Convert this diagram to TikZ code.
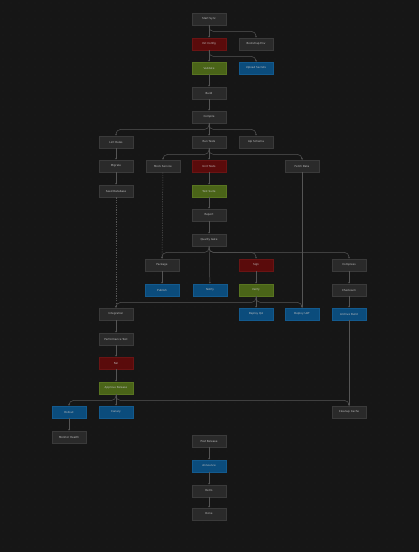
\documentclass[tikz,border=0pt]{standalone}
\usepackage{fontspec}
\setmainfont{DejaVu Sans}
\usetikzlibrary{arrows.meta}
\definecolor{bgc}{HTML}{161616}
\definecolor{dotc}{HTML}{2C2C2C}
\definecolor{grayf}{HTML}{2A2A2A}
\definecolor{grayl}{HTML}{3A3A3A}
\definecolor{redf}{HTML}{5A0B0B}
\definecolor{redl}{HTML}{6A1414}
\definecolor{greenf}{HTML}{4A6418}
\definecolor{greenl}{HTML}{587420}
\definecolor{bluef}{HTML}{0B4C7C}
\definecolor{bluel}{HTML}{135A8E}
\definecolor{edgec}{HTML}{555555}
\definecolor{txt}{HTML}{C0C0C0}
\begin{document}
\begin{tikzpicture}[x=1bp,y=-1bp,
  box/.style={draw=grayl,fill=grayf,minimum width=34bp,minimum height=12.5bp,inner sep=0pt,text=txt,line width=0.4pt,font=\fontsize{2.7}{3.1}\selectfont},
  redb/.style={box,fill=redf,draw=redl},
  greenb/.style={box,fill=greenf,draw=greenl},
  blueb/.style={box,fill=bluef,draw=bluel},
  e/.style={draw=edgec,line width=0.5pt,rounded corners=4.5pt,-{Stealth[length=1.6pt,width=1.6pt]}},
  ed/.style={e,dashed,dash pattern=on 1.2pt off 1.2pt}]
\useasboundingbox (0,0) rectangle (418,552);
\fill[bgc] (-3,-3) rectangle (421,555);
\begin{scope}
\clip (0,0) rectangle (418,552);
\foreach \i in {0,...,51} \foreach \j in {0,...,68} \fill[dotc] (\i*8+3,\j*8+3) circle (0.35);
\end{scope}
% nodes
\node[box]    (a)   at (209,19)  {Start Sync};
\node[redb]   (b)   at (209,44)  {Init Config};
\node[box]    (c)   at (256,44)  {Bootstrap Env};
\node[greenb] (d)   at (209,68)  {Validate};
\node[blueb]  (f)   at (256,68)  {Upload Secrets};
\node[box]    (g)   at (209,93)  {Build};
\node[box]    (h)   at (209,117) {Compile};
\node[box]    (i1)  at (116,142) {Lint Rules};
\node[box]    (i2)  at (209,142) {Run Tests};
\node[box]    (i3)  at (256,142) {Api Schema};
\node[box]    (j1)  at (116,166) {Migrate};
\node[box]    (j2)  at (163,166) {Mock Service};
\node[redb]   (j3)  at (209,166) {Unit Tests};
\node[box]    (j4)  at (302,166) {Fetch Data};
\node[box]    (k1)  at (116,191) {Seed Database};
\node[greenb] (k2)  at (209,191) {Test Suite};
\node[box]    (l)   at (209,215) {Report};
\node[box]    (m)   at (209,240) {Quality Gate};
\node[box]    (n1)  at (162,265) {Package};
\node[redb]   (n2)  at (256,265) {Sign};
\node[box]    (n3)  at (349,265) {Compress};
\node[blueb]  (o1)  at (162,290) {Publish};
\node[blueb]  (o2)  at (210,290) {Notify};
\node[greenb] (o3)  at (256,290) {Verify};
\node[box]    (o4)  at (349,290) {Checksum};
\node[box]    (p1)  at (116,314) {Integration};
\node[blueb]  (p2)  at (256,314) {Deploy QA};
\node[blueb]  (p3)  at (302,314) {Deploy UAT};
\node[blueb]  (p4)  at (349,314) {Archive Build};
\node[box]    (q)   at (116,339) {Performance Test};
\node[redb]   (r)   at (116,363) {Fail};
\node[greenb] (s)   at (116,388) {Approve Release};
\node[blueb]  (t1)  at (69,412)  {Rollout};
\node[blueb]  (t2)  at (116,412) {Canary};
\node[box]    (t3)  at (349,412) {Cleanup Cache};
\node[box]    (u1)  at (69,437)  {Monitor Health};
\node[box]    (u2)  at (209,441) {Post Release};
\node[blueb]  (v)   at (209,466) {Announce};
\node[box]    (w)   at (209,491) {Retro};
\node[box]    (x)   at (209,514) {Done};
% edges
\draw[e] (a) -- (b);
\draw[e] (a.south) -- ++(0,6) -| (c.north);
\draw[e] (b) -- (d);
\draw[e] (b.south) -- ++(0,6) -| (f.north);
\draw[e] (d) -- (g);
\draw[e] (g) -- (h);
\draw[e] (h) -- (i2);
\draw[e] (h.south) -- ++(0,6) -| (i1.north);
\draw[e] (h.south) -- ++(0,6) -| (i3.north);
\draw[e] (i1) -- (j1);
\draw[e] (j1) -- (k1);
\draw[e] (i2) -- (j3);
\draw[e] (i2.south) -- ++(0,6) -| (j2.north);
\draw[e] (i2.south) -- ++(0,6) -| (j4.north);
\draw[e] (j3) -- (k2);
\draw[e] (k2) -- (l);
\draw[e] (l) -- (m);
\draw[e] (m) -- (o2);
\draw[e] (m.south) -- ++(0,6) -| (n1.north);
\draw[e] (m.south) -- ++(0,6) -| (n2.north);
\draw[e] (m.south) -- ++(0,6) -| (n3.north);
\draw[ed] (j2) -- (n1);
\draw[ed] (k1) -- (p1);
\draw[e] (n1) -- (o1);
\draw[e] (n2) -- (o3);
\draw[e] (n3) -- (o4);
\draw[e] (o3) -- (p2);
\draw[e] (o3.south) -- ++(0,6) -| (p3.north);
\draw[e] (o3.south) -- ++(0,6) -| (p1.north);
\draw[e] (j4) -- (p3);
\draw[e] (o4) -- (p4);
\draw[e] (p1) -- (q);
\draw[e] (q) -- (r);
\draw[e] (r) -- (s);
\draw[e] (s) -- (t2);
\draw[e] (s.south) -- ++(0,6) -| (t1.north);
\draw[e] (s.south) -- ++(0,6) -| (t3.north);
\draw[e] (p4) -- (t3);
\draw[e] (t1) -- (u1);
\draw[e] (u2) -- (v);
\draw[e] (v) -- (w);
\draw[e] (w) -- (x);
\end{tikzpicture}
\end{document}
